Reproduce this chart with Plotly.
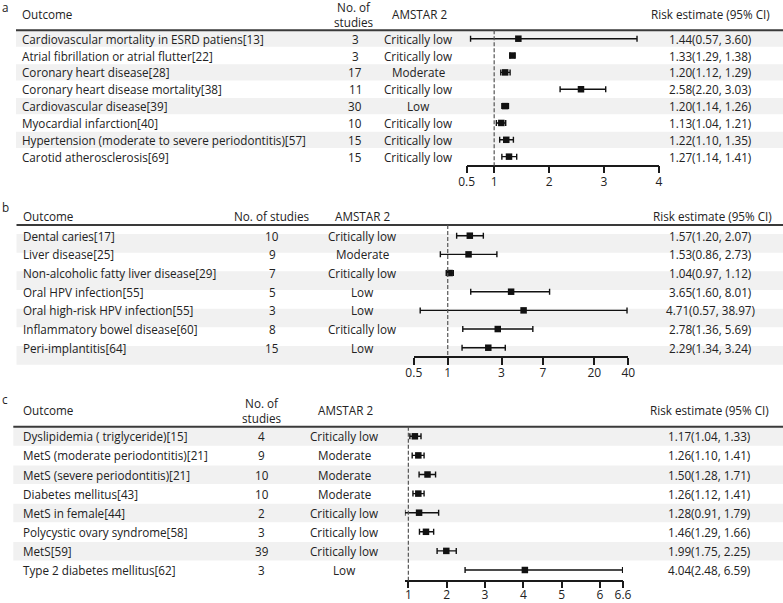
import plotly.graph_objects as go
import math

W, H = 783, 603

# ---------------- data ----------------
a_outcomes = ["Cardiovascular mortality in ESRD patiens[13]",
              "Atrial fibrillation or atrial flutter[22]",
              "Coronary heart disease[28]",
              "Coronary heart disease mortality[38]",
              "Cardiovascular disease[39]",
              "Myocardial infarction[40]",
              "Hypertension (moderate to severe periodontitis)[57]",
              "Carotid atherosclerosis[69]"]
a_studies = [3, 3, 17, 11, 30, 10, 15, 15]
a_amstar = ["Critically low", "Critically low", "Moderate", "Critically low",
            "Low", "Critically low", "Critically low", "Critically low"]
a_est = [1.44, 1.33, 1.20, 2.58, 1.20, 1.13, 1.22, 1.27]
a_lo = [0.57, 1.29, 1.12, 2.20, 1.14, 1.04, 1.10, 1.14]
a_hi = [3.60, 1.38, 1.29, 3.03, 1.26, 1.21, 1.35, 1.41]
a_ticks = [0.5, 1, 2, 3, 4]
a_ticktext = ["0.5", "1", "2", "3", "4"]

b_outcomes = ["Dental caries[17]",
              "Liver disease[25]",
              "Non-alcoholic fatty liver disease[29]",
              "Oral HPV infection[55]",
              "Oral high-risk HPV infection[55]",
              "Inflammatory bowel disease[60]",
              "Peri-implantitis[64]"]
b_studies = [10, 9, 7, 5, 3, 8, 15]
b_amstar = ["Critically low", "Moderate", "Critically low", "Low", "Low",
            "Critically low", "Low"]
b_est = [1.57, 1.53, 1.04, 3.65, 4.71, 2.78, 2.29]
b_lo = [1.20, 0.86, 0.97, 1.60, 0.57, 1.36, 1.34]
b_hi = [2.07, 2.73, 1.12, 8.01, 38.97, 5.69, 3.24]
b_ticks = [0.5, 1, 3, 7, 20, 40]
b_ticktext = ["0.5", "1", "3", "7", "20", "40"]

c_outcomes = ["Dyslipidemia ( triglyceride)[15]",
              "MetS (moderate periodontitis)[21]",
              "MetS (severe periodontitis)[21]",
              "Diabetes mellitus[43]",
              "MetS in female[44]",
              "Polycystic ovary syndrome[58]",
              "MetS[59]",
              "Type 2 diabetes mellitus[62]"]
c_studies = [4, 9, 10, 10, 2, 3, 39, 3]
c_amstar = ["Critically low", "Moderate", "Moderate", "Moderate",
            "Critically low", "Critically low", "Critically low", "Low"]
c_est = [1.17, 1.26, 1.50, 1.26, 1.28, 1.46, 1.99, 4.04]
c_lo = [1.04, 1.10, 1.28, 1.12, 0.91, 1.29, 1.75, 2.48]
c_hi = [1.33, 1.41, 1.71, 1.41, 1.79, 1.66, 2.25, 6.59]
c_ticks = [1, 2, 3, 4, 5, 6, 6.6]
c_ticktext = ["1", "2", "3", "4", "5", "6", "6.6"]

# ---------------- style / layout ----------------
FONT = "Open Sans"
FS = 11.7
TXT = "#222222"
BAND = "#f1f1f1"
HEAD_LINE = "#3a3a3a"

panels = [
    dict(label="a", outcomes=a_outcomes, studies=a_studies, amstar=a_amstar,
         est=a_est, lo=a_lo, hi=a_hi, ticks=a_ticks, ticktext=a_ticktext,
         xtype="linear", xrange=[0.5, 4], xpx=[466.7, 659.0],
         c0=38.7, pitch=16.85, head_row=-0.497, axis_row=7.537,
         top_row=-1.0, bot_row=7.9, band_off=(-0.48, 0.48), line_x0=16,
         label_py=7, head_py=14, studies_head="No. of<br>studies", standoff=-2,
         col_x=dict(out=20, st=355, am=418.5, est=710, st_h=354, am_h=419, est_h=710.5)),
    dict(label="b", outcomes=b_outcomes, studies=b_studies, amstar=b_amstar,
         est=b_est, lo=b_lo, hi=b_hi, ticks=b_ticks, ticktext=b_ticktext,
         xtype="log", xrange=[math.log10(0.5), math.log10(40)], xpx=[413.8, 628.3],
         c0=235.7, pitch=18.67, head_row=-0.573, axis_row=6.481,
         top_row=-0.9, bot_row=7.0, band_off=(-0.09, 0.91), line_x0=16.5,
         label_py=207, head_py=216, studies_head="No. of studies", standoff=-2,
         col_x=dict(out=20.7, st=272, am=362, est=710, st_h=271.7, am_h=362, est_h=712)),
    dict(label="c", outcomes=c_outcomes, studies=c_studies, amstar=c_amstar,
         est=c_est, lo=c_lo, hi=c_hi, ticks=c_ticks, ticktext=c_ticktext,
         xtype="linear", xrange=[0.91, 6.6], xpx=[404.9, 623.0],
         c0=436.3, pitch=19.1, head_row=-0.503, axis_row=7.56,
         top_row=-0.9, bot_row=7.8, band_off=(-0.47, 0.5), line_x0=13.3,
         label_py=399, head_py=410, studies_head="No. of<br>studies", standoff=-4,
         col_x=dict(out=20.7, st=261.5, am=344, est=709, st_h=262, am_h=345, est_h=709.5)),
]

fig = go.Figure()
annotations = []
shapes = []
layout = dict(
    width=W, height=H,
    margin=dict(l=0, r=0, t=0, b=0, pad=0, autoexpand=False),
    paper_bgcolor="white", plot_bgcolor="rgba(0,0,0,0)",
    showlegend=False,
    font=dict(family=FONT, size=FS, color=TXT),
)


def py2paper(py):
    return 1 - py / H


def px2paper(px):
    return px / W


for k, p in enumerate(panels):
    n = k + 1
    xname = "x" if n == 1 else f"x{n}"
    yname = "y" if n == 1 else f"y{n}"
    xkey = "xaxis" if n == 1 else f"xaxis{n}"
    ykey = "yaxis" if n == 1 else f"yaxis{n}"

    def row_px(r, p=p):
        return p["c0"] + p["pitch"] * r

    rows = list(range(len(p["outcomes"])))

    layout[ykey] = dict(
        domain=[py2paper(row_px(p["bot_row"])), py2paper(row_px(p["top_row"]))],
        range=[p["bot_row"], p["top_row"]],
        visible=False, fixedrange=True, automargin=False,
    )
    layout[xkey] = dict(
        type=p["xtype"], range=p["xrange"],
        domain=[px2paper(p["xpx"][0]), px2paper(p["xpx"][1])],
        anchor="free", position=py2paper(row_px(p["axis_row"])),
        showline=True, linecolor="#1a1a1a", linewidth=1.6,
        ticks="outside", ticklen=7, tickwidth=1.6, tickcolor="#1a1a1a",
        ticklabelstandoff=p["standoff"],
        tickvals=p["ticks"], ticktext=p["ticktext"],
        tickfont=dict(family=FONT, size=12, color=TXT),
        showgrid=False, zeroline=False, fixedrange=True, automargin=False,
    )

    # row shading
    for r in rows[::2]:
        shapes.append(dict(type="rect", xref="paper", yref=yname,
                           x0=px2paper(p["line_x0"]), x1=1,
                           y0=r + p["band_off"][0], y1=r + p["band_off"][1],
                           fillcolor=BAND, line=dict(width=0), layer="below"))
    # header rule
    shapes.append(dict(type="line", xref="paper", yref=yname,
                       x0=px2paper(p["line_x0"]), x1=1,
                       y0=p["head_row"], y1=p["head_row"],
                       line=dict(color=HEAD_LINE, width=2)))
    # reference line at 1
    shapes.append(dict(type="line", xref=xname, yref=yname,
                       x0=1, x1=1, y0=p["head_row"], y1=p["axis_row"],
                       line=dict(color="#555555", width=1.2, dash="4px,2px")))

    # forest markers
    fig.add_trace(go.Scatter(
        x=p["est"], y=rows, xaxis=xname, yaxis=yname,
        mode="markers", cliponaxis=False,
        marker=dict(symbol="square", size=6.5, color="#111111"),
        error_x=dict(type="data", symmetric=False,
                     array=[h - e for h, e in zip(p["hi"], p["est"])],
                     arrayminus=[e - l for e, l in zip(p["est"], p["lo"])],
                     thickness=1.4, width=3, color="#111111"),
        hoverinfo="skip",
    ))

    cx = p["col_x"]

    def head(text, px, anchor="center", py=p["head_py"]):
        annotations.append(dict(text=text, xref="paper", yref="paper",
                                x=px2paper(px), y=py2paper(py),
                                xanchor=anchor, yanchor="middle",
                                showarrow=False,
                                font=dict(family=FONT, size=FS, color=TXT)))
    head(p["label"], 0, "left", p["label_py"])
    head("Outcome", cx["out"], "left")
    head(p["studies_head"], cx["st_h"])
    head("AMSTAR 2", cx["am_h"])
    head("Risk estimate (95% CI)", cx["est_h"])

    for r in rows:
        cells = [
            (p["outcomes"][r], cx["out"], "left"),
            (str(p["studies"][r]), cx["st"], "center"),
            (p["amstar"][r], cx["am"], "center"),
            (f"{p['est'][r]:.2f}({p['lo'][r]:.2f}, {p['hi'][r]:.2f})", cx["est"], "center"),
        ]
        for text, px, anc in cells:
            annotations.append(dict(text=text, xref="paper", yref=yname,
                                    x=px2paper(px), y=r,
                                    xanchor=anc, yanchor="middle",
                                    showarrow=False,
                                    font=dict(family=FONT, size=FS, color=TXT)))

layout["annotations"] = annotations
layout["shapes"] = shapes
fig.update_layout(**layout)

# place the figure flush with the page corner (no default body margin)
fig.write_html(
    "out.html",
    config={"responsive": False, "displayModeBar": False},
    post_script="document.body.style.margin='0px';document.body.style.padding='0px';"
                "document.documentElement.style.overflow='hidden';",
)
